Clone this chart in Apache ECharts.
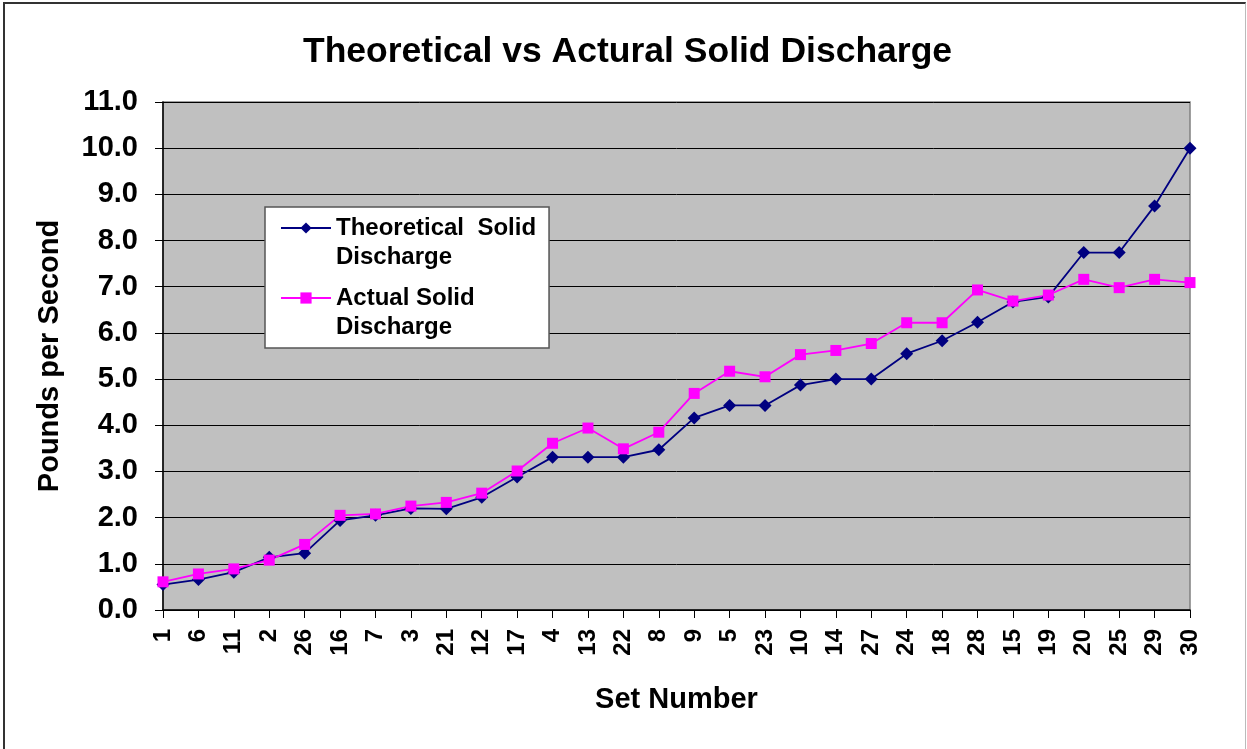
<!DOCTYPE html>
<html>
<head>
<meta charset="utf-8">
<script src="https://cdn.jsdelivr.net/npm/echarts@6/dist/echarts.min.js"></script>
<style>
html, body { margin: 0; padding: 0; background: #fff; }
#frame {
    position: absolute; left: 3px; top: 2px; width: 1240px; height: 800px;
    border-left: 2px solid #333; border-top: 2px solid #333; border-right: 1px solid #bbb;
}
#statisticsChart { position: absolute; left: 0; top: 0; width: 1247px; height: 749px; }
</style>
</head>
<body>
<div id="frame"></div>
<div id="statisticsChart"></div>
<script>
// x轴 set numbers, in the order they are plotted
var setNumbers = ['1', '6', '11', '2', '26', '16', '7', '3', '21', '12', '17', '4', '13', '22', '8',
    '9', '5', '23', '10', '14', '27', '24', '18', '28', '15', '19', '20', '25', '29', '30'];
var theoreticalList = [0.55, 0.66, 0.82, 1.14, 1.23, 1.94, 2.05, 2.20, 2.19, 2.44, 2.88, 3.31, 3.31, 3.31, 3.47,
    4.16, 4.43, 4.43, 4.87, 5.00, 5.00, 5.55, 5.83, 6.23, 6.67, 6.78, 7.74, 7.74, 8.75, 10.0];
var actualList = [0.61, 0.78, 0.89, 1.08, 1.42, 2.05, 2.08, 2.25, 2.33, 2.53, 3.01, 3.61, 3.94, 3.49, 3.85,
    4.69, 5.17, 5.05, 5.53, 5.62, 5.77, 6.22, 6.22, 6.93, 6.69, 6.82, 7.16, 6.98, 7.16, 7.09];
var yMin = 0, yMax = 11, yStep = 1;

// leading empty line keeps the icon level with the first text line
var legendText = {
    'Theoretical Solid Discharge': '\nTheoretical  Solid\nDischarge',
    'Actual Solid Discharge': '\nActual Solid\nDischarge'
};

var chartDom = document.getElementById('statisticsChart');
var mychart = echarts.init(chartDom);
var font = 'Liberation Sans, Arial, sans-serif';

var option = {
    animation: false,
    title: {
        text: 'Theoretical vs Actural Solid Discharge',
        left: 303,
        top: 34,
        padding: 0,
        textStyle: { fontFamily: font, fontSize: 35.5, fontWeight: 'bold', color: '#000' }
    },
    legend: {
        orient: 'vertical',
        left: 265,
        top: 207,
        padding: [-22.5, 13, 6.5, 15],
        itemGap: -17,
        itemWidth: 50,
        itemHeight: 14,
        backgroundColor: '#fff',
        borderColor: '#555',
        borderWidth: 1.5,
        borderRadius: 0,
        formatter: function (name) { return legendText[name]; },
        textStyle: {
            fontFamily: font, fontSize: 24, fontWeight: 'bold', color: '#000',
            lineHeight: 29
        },
        data: ['Theoretical Solid Discharge', 'Actual Solid Discharge']
    },
    grid: {
        left: 163,
        right: 57,
        top: 102,
        bottom: 139,
        show: true,
        backgroundColor: '#c0c0c0',
        borderColor: '#808080',
        borderWidth: 1.5
    },
    xAxis: {
        type: 'category',
        boundaryGap: false,
        data: setNumbers,
        name: 'Set Number',
        nameLocation: 'middle',
        nameGap: 75,
        nameTextStyle: { fontFamily: font, fontSize: 29, fontWeight: 'bold', color: '#000' },
        axisLine: { lineStyle: { color: '#000', width: 1.5 } },
        axisTick: { show: true, inside: false, length: 8, alignWithLabel: true, lineStyle: { color: '#000' } },
        axisLabel: {
            interval: 0, rotate: 90, margin: 19,
            fontFamily: font, fontSize: 24, fontWeight: 'bold', color: '#000'
        },
        splitLine: { show: false }
    },
    yAxis: {
        type: 'value',
        min: yMin,
        max: yMax,
        interval: yStep,
        name: 'Pounds per Second',
        nameLocation: 'middle',
        nameGap: 99,
        nameTextStyle: { fontFamily: font, fontSize: 29, fontWeight: 'bold', color: '#000' },
        axisLine: { show: true, lineStyle: { color: '#000', width: 1.5 } },
        axisTick: { show: true, length: 8, lineStyle: { color: '#000' } },
        axisLabel: {
            margin: 25,
            fontFamily: font, fontSize: 29, fontWeight: 'bold', color: '#000',
            formatter: function (v) { return v.toFixed(1); }
        },
        splitLine: { show: true, lineStyle: { color: '#000', width: 1 } }
    },
    series: [
        {
            name: 'Theoretical Solid Discharge',
            type: 'line',
            data: theoreticalList,
            symbol: 'diamond',
            symbolSize: 13,
            showAllSymbol: true,
            itemStyle: { color: '#000080' },
            lineStyle: { color: '#000080', width: 1.8 }
        },
        {
            name: 'Actual Solid Discharge',
            type: 'line',
            data: actualList,
            symbol: 'rect',
            symbolSize: 11,
            showAllSymbol: true,
            itemStyle: { color: '#ff00ff' },
            lineStyle: { color: '#ff00ff', width: 1.8 }
        }
    ]
};

option && mychart.setOption(option);
</script>
</body>
</html>
